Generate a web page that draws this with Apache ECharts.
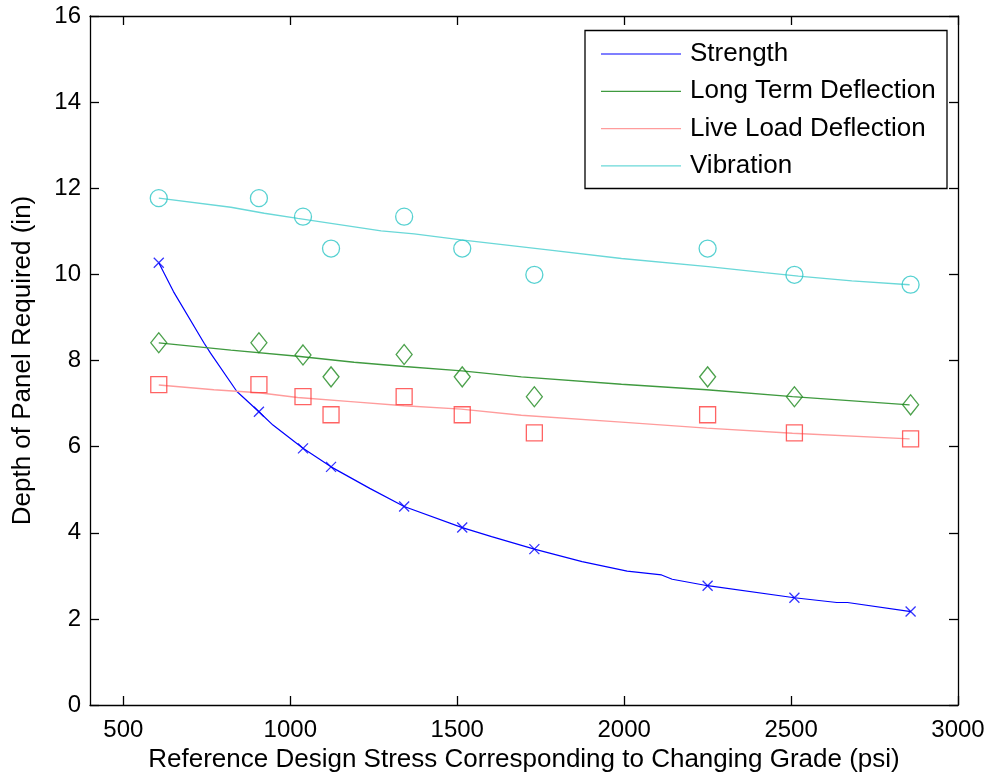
<!DOCTYPE html>
<html>
<head>
<meta charset="utf-8">
<script src="https://cdn.jsdelivr.net/npm/echarts@6/dist/echarts.min.js"></script>
<style>html,body{margin:0;padding:0;background:#fff}#c{width:990px;height:778px}</style>
</head>
<body>
<div id="c"></div>
<script>
// ---- data ----
const xTicks = [500, 1000, 1500, 2000, 2500, 3000];
const yTicks = [0, 2, 4, 6, 8, 10, 12, 14, 16];

const stress = [606, 906, 1038, 1122, 1341, 1515, 1731, 2250, 2510, 2858];
const strengthPts = [10.27, 6.81, 5.96, 5.53, 4.61, 4.12, 3.62, 2.77, 2.49, 2.17];
const longTermPts = [8.41, 8.41, 8.13, 7.62, 8.14, 7.62, 7.16, 7.62, 7.16, 6.97];
const liveLoadPts = [7.44, 7.44, 7.16, 6.74, 7.16, 6.74, 6.32, 6.74, 6.32, 6.18];
const vibrationPts = [11.77, 11.77, 11.34, 10.60, 11.34, 10.60, 9.99, 10.60, 9.99, 9.76];

const strengthFitX = [606, 650, 742, 761, 840, 906, 948, 1038, 1122, 1238, 1341, 1515, 1603, 1731, 1874, 2009, 2112, 2144, 2250, 2510, 2637, 2669, 2859];
const strengthFitY = [10.27, 9.60, 8.40, 8.17, 7.28, 6.81, 6.50, 5.96, 5.53, 5.03, 4.61, 4.12, 3.91, 3.62, 3.33, 3.11, 3.02, 2.92, 2.77, 2.49, 2.38, 2.38, 2.17];
const longTermFitX = [606, 822, 1022, 1191, 1341, 1514, 1692, 1992, 2247, 2504, 2855];
const longTermFitY = [8.41, 8.24, 8.10, 7.96, 7.86, 7.76, 7.62, 7.45, 7.32, 7.16, 6.97];
const liveLoadFitX = [606, 771, 906, 1022, 1191, 1341, 1512, 1692, 1992, 2247, 2504, 2855];
const liveLoadFitY = [7.43, 7.32, 7.25, 7.14, 7.04, 6.95, 6.87, 6.73, 6.57, 6.43, 6.31, 6.18];
const vibrationFitX = [606, 822, 922, 1022, 1272, 1371, 1512, 1772, 1992, 2252, 2421, 2522, 2682, 2855];
const vibrationFitY = [11.77, 11.56, 11.42, 11.30, 11.01, 10.94, 10.80, 10.57, 10.37, 10.18, 10.04, 9.96, 9.85, 9.76];

const seriesNames = ['Strength', 'Long Term Deflection', 'Live Load Deflection', 'Vibration'];
// --------------------------------------

const zip = (a, b) => a.map((v, i) => [v, b[i]]);
const FONT = 'Liberation Sans, Arial, Helvetica, sans-serif';

const lineColors = ['#0000ff', '#3f9a3f', '#ff9c9c', '#6ad8d8'];
const markColors = ['#0000ff', '#1f8a1f', '#ff3c3c', '#2cc6c6'];

function fitLine(i, xs, ys) {
  return {
    name: seriesNames[i], type: 'line', data: zip(xs, ys),
    showSymbol: false, symbol: 'none', smooth: false,
    lineStyle: { color: lineColors[i], width: i === 0 ? 1.2 : 1.4 },
    itemStyle: { color: lineColors[i] },
    z: 3, silent: true, animation: false
  };
}
function marks(i, ys, symbol, size) {
  return {
    name: seriesNames[i] + ' data', type: 'scatter', data: zip(stress, ys),
    symbol: symbol, symbolSize: size,
    itemStyle: { color: 'none', borderColor: markColors[i], borderWidth: 1.3 },
    z: 4, silent: true, animation: false
  };
}

const axisCommon = {
  axisLine: { show: true, onZero: false, lineStyle: { color: '#000', width: 1.3 } },
  axisTick: { show: true, inside: true, length: 9, lineStyle: { color: '#000', width: 1.3 } },
  splitLine: { show: false }
};
const plain = v => String(v);

const chart = echarts.init(document.getElementById('c'), null, { renderer: 'canvas' });
chart.setOption({
  backgroundColor: '#fff',
  animation: false,
  grid: { left: 90, top: 16, width: 868, height: 689, containLabel: false },
  xAxis: [
    Object.assign({}, axisCommon, {
      type: 'value', min: 400, max: 3000, position: 'bottom',
      axisTick: Object.assign({}, axisCommon.axisTick, { customValues: xTicks }),
      axisLabel: { customValues: xTicks, formatter: plain, margin: 13, color: '#000', fontSize: 24, fontFamily: FONT },
      name: 'Reference Design Stress Corresponding to Changing Grade (psi)',
      nameLocation: 'middle', nameGap: 37,
      nameTextStyle: { color: '#000', fontSize: 26, fontFamily: FONT, lineHeight: 26 }
    }),
    Object.assign({}, axisCommon, {
      type: 'value', min: 400, max: 3000, position: 'top',
      axisTick: Object.assign({}, axisCommon.axisTick, { customValues: xTicks }),
      axisLabel: { show: false }
    })
  ],
  yAxis: [
    Object.assign({}, axisCommon, {
      type: 'value', min: 0, max: 16, interval: 2, position: 'left',
      axisLabel: { formatter: plain, margin: 9, color: '#000', fontSize: 24, fontFamily: FONT },
      name: 'Depth of Panel Required (in)',
      nameLocation: 'middle', nameGap: 54,
      nameTextStyle: { color: '#000', fontSize: 26, fontFamily: FONT, lineHeight: 26 }
    }),
    Object.assign({}, axisCommon, {
      type: 'value', min: 0, max: 16, interval: 2, position: 'right',
      axisLabel: { show: false }
    })
  ],
  legend: {
    data: seriesNames,
    orient: 'vertical', left: 601, top: 41, padding: 0,
    itemWidth: 80, itemHeight: 1.2, itemGap: 11.3,
    icon: 'rect',
    textStyle: { color: '#000', fontSize: 26, fontFamily: FONT, lineHeight: 26, padding: [0, 0, 0, 4] },
    selectedMode: false, z: 10
  },
  graphic: [{
    type: 'rect', shape: { x: 585, y: 30.5, width: 362, height: 158 },
    style: { fill: '#fff', stroke: '#000', lineWidth: 1.3 }, z: 5, silent: true
  }],
  series: [
    fitLine(0, strengthFitX, strengthFitY),
    fitLine(1, longTermFitX, longTermFitY),
    fitLine(2, liveLoadFitX, liveLoadFitY),
    fitLine(3, vibrationFitX, vibrationFitY),
    marks(0, strengthPts, 'path://M0,0L10,10M10,0L0,10', 10),
    marks(1, longTermPts, 'diamond', [16, 20]),
    marks(2, liveLoadPts, 'rect', [16, 16]),
    marks(3, vibrationPts, 'circle', 17)
  ]
});
</script>
</body>
</html>
